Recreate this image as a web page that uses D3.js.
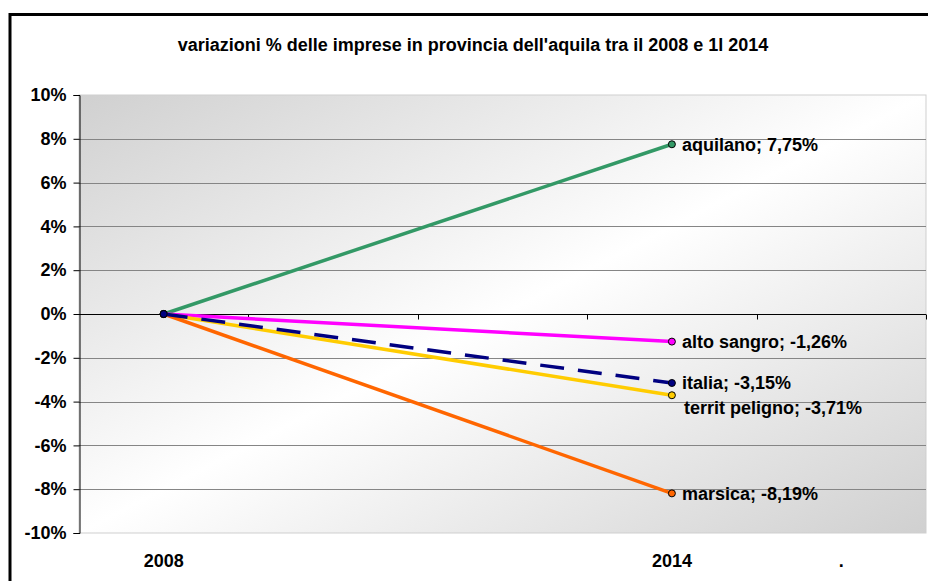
<!DOCTYPE html>
<html>
<head>
<meta charset="utf-8">
<script src="https://cdn.jsdelivr.net/npm/d3@7/dist/d3.min.js"></script>
<style>
	body { margin: 0; background: #fff; }
	svg text { font-family: Arial, "Liberation Sans", sans-serif; font-weight: bold; fill: #000; }
</style>
</head>
<body>
<div id="chart"></div>
<script>

	/* - - - DATA - - - */

	var categories = ["2008", "", "", "2014", "."];
	var seriesNames = ["aquilano", "alto sangro", "territ peligno", "marsica", "italia"];
	var values2008 = [0, 0, 0, 0, 0];
	var values2014 = [7.75, -1.26, -3.71, -8.19, -3.15];
	var yTicks = [-10, -8, -6, -4, -2, 0, 2, 4, 6, 8, 10];
	var colors = ["#339966", "#ff00ff", "#ffcc00", "#ff6600", "#000080"];
	var title = "variazioni % delle imprese in provincia dell'aquila tra il 2008 e 1l 2014";

	/* - - - END DATA - - - */

	var svgWidth = 928;
	var svgHeight = 581;
	var plot = { left: 79, right: 926, top: 95, bottom: 533 };

	var svg = d3.select('#chart')
				.append('svg')
				.attr('width', svgWidth)
				.attr('height', svgHeight);

	// frame round the whole chart, runs off the right and bottom edge
	svg.append('rect')
	   .attr('x', 10)
	   .attr('y', 14.5)
	   .attr('width', 940)
	   .attr('height', 600)
	   .attr('fill', '#fff')
	   .attr('stroke', '#000')
	   .attr('stroke-width', 3);

	svg.append('text')
	   .attr('x', 473)
	   .attr('y', 51)
	   .attr('text-anchor', 'middle')
	   .style('font-size', '18px')
	   .text(title);

	var x = d3.scaleBand()
			  .domain(d3.range(categories.length))
			  .range([plot.left, plot.right]);

	var y = d3.scaleLinear()
			  .domain([-10, 10])
			  .range([plot.bottom, plot.top]);

	/* - - - plot area - - - */

	var grad = svg.append('defs')
				  .append('linearGradient')
				  .attr('id', 'bg')
				  .attr('x1', 0).attr('y1', 0)
				  .attr('x2', 1).attr('y2', 1);
	grad.append('stop').attr('offset', '0%').attr('stop-color', '#d0d0d0');
	grad.append('stop').attr('offset', '50%').attr('stop-color', '#ffffff');
	grad.append('stop').attr('offset', '100%').attr('stop-color', '#d0d0d0');

	svg.append('rect')
	   .attr('x', plot.left)
	   .attr('y', plot.top)
	   .attr('width', plot.right - plot.left)
	   .attr('height', plot.bottom - plot.top)
	   .attr('fill', 'url(#bg)')
	   .attr('stroke', '#cfcfcf')
	   .attr('stroke-width', 1);

	svg.append('g')
	   .selectAll('line')
	   .data(yTicks.filter(function (d) { return d !== 0 && d !== 10 && d !== -10; }))
	   .enter()
	   .append('line')
	   .attr('x1', plot.left)
	   .attr('x2', plot.right)
	   .attr('y1', function (d) { return Math.round(y(d)) + 0.5; })
	   .attr('y2', function (d) { return Math.round(y(d)) + 0.5; })
	   .attr('stroke', '#858585')
	   .attr('stroke-width', 1);

	/* - - - axes - - - */

	var yAxis = svg.append('g')
				   .attr('transform', 'translate(' + (plot.left + 0.5) + ',0)')
				   .call(d3.axisLeft(y)
						   .tickValues(yTicks)
						   .tickSize(6)
						   .tickPadding(7)
						   .tickFormat(function (d) { return d + '%'; }));
	yAxis.select('.domain').attr('stroke', '#000');
	yAxis.selectAll('text').style('font-size', '18px');

	// category axis crosses at 0%, ticks sit between the categories
	var zeroY = Math.round(y(0)) + 0.5;
	svg.append('line')
	   .attr('x1', plot.left)
	   .attr('x2', plot.right)
	   .attr('y1', zeroY)
	   .attr('y2', zeroY)
	   .attr('stroke', '#000');

	svg.append('g')
	   .selectAll('line')
	   .data(d3.range(1, categories.length + 1))
	   .enter()
	   .append('line')
	   .attr('x1', function (d) { return Math.round(plot.left + d * x.bandwidth()) + 0.5; })
	   .attr('x2', function (d) { return Math.round(plot.left + d * x.bandwidth()) + 0.5; })
	   .attr('y1', zeroY)
	   .attr('y2', zeroY + 5)
	   .attr('stroke', '#000');

	svg.append('g')
	   .selectAll('text')
	   .data(categories)
	   .enter()
	   .append('text')
	   .attr('x', function (d, i) { return x(i) + x.bandwidth() / 2; })
	   .attr('y', 567)
	   .attr('text-anchor', 'middle')
	   .style('font-size', '18px')
	   .text(function (d) { return d; });

	/* - - - series - - - */

	var series = seriesNames.map(function (name, i) {
		return {
			name: name,
			color: colors[i],
			points: [
				{ cat: 0, value: values2008[i] },
				{ cat: 3, value: values2014[i] }
			]
		};
	});

	var line = d3.line()
				 .x(function (d) { return x(d.cat) + x.bandwidth() / 2; })
				 .y(function (d) { return y(d.value); });

	var groups = svg.append('g')
					.selectAll('g')
					.data(series)
					.enter()
					.append('g');

	groups.append('path')
		  .attr('d', function (d) { return line(d.points); })
		  .attr('fill', 'none')
		  .attr('stroke', function (d) { return d.color; })
		  .attr('stroke-width', 3.5)
		  .attr('stroke-dasharray', function (d) { return d.name === 'italia' ? '24,14' : null; });

	groups.selectAll('circle')
		  .data(function (d) { return d.points.map(function (p) { return { p: p, color: d.color }; }); })
		  .enter()
		  .append('circle')
		  .attr('cx', function (d) { return x(d.p.cat) + x.bandwidth() / 2; })
		  .attr('cy', function (d) { return y(d.p.value); })
		  .attr('r', 3.5)
		  .attr('fill', function (d) { return d.color; })
		  .attr('stroke', '#000')
		  .attr('stroke-width', 1);

	/* - - - data labels on the 2014 points - - - */

	var fmt = d3.format('.2f');
	var labels = series.map(function (s) {
		var v = s.points[1].value;
		return { text: s.name + '; ' + fmt(v).replace('\u2212', '-').replace('.', ',') + '%', y: y(v) };
	}).sort(function (a, b) { return a.y - b.y; });

	// push a label down when it would sit on the one above
	for (var i = 1; i < labels.length; i++) {
		if (labels[i].y - labels[i - 1].y < 22) {
			labels[i].y = labels[i - 1].y + 25;
			labels[i].dx = 2;
		}
	}

	svg.append('g')
	   .selectAll('text')
	   .data(labels)
	   .enter()
	   .append('text')
	   .attr('x', function (d) { return x(3) + x.bandwidth() / 2 + 10 + (d.dx || 0); })
	   .attr('y', function (d) { return d.y; })
	   .attr('dy', '0.36em')
	   .style('font-size', '18px')
	   .text(function (d) { return d.text; });

</script>
</body>
</html>
